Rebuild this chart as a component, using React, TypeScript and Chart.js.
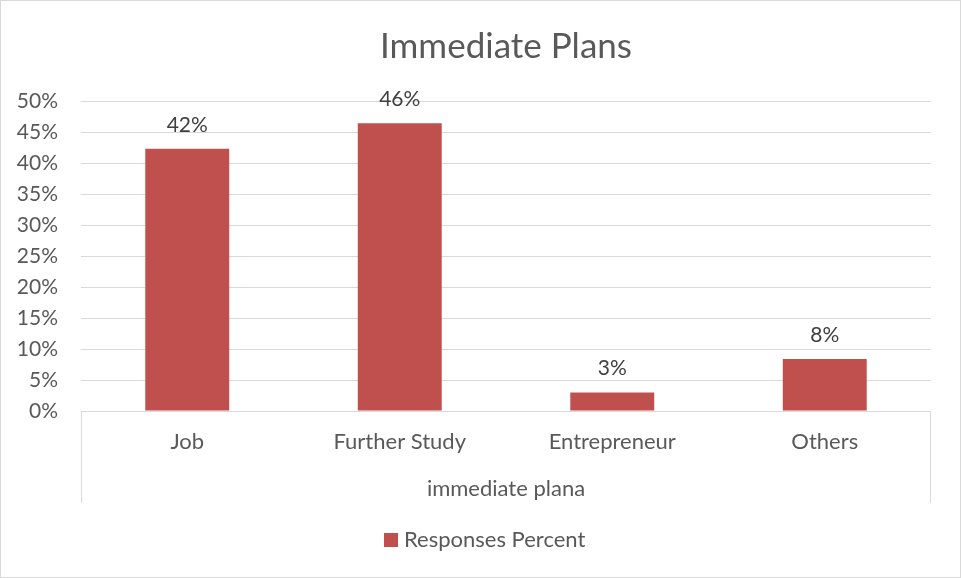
import React, { useEffect, useRef } from "react";
import { Chart, registerables } from "chart.js";

Chart.register(...registerables);

const categories = ["Job", "Further Study", "Entrepreneur", "Others"];
const responsesPercent = [42.3, 46.4, 3.0, 8.4];
const dataLabels = ["42%", "46%", "3%", "8%"];
const yTickValues = [0, 5, 10, 15, 20, 25, 30, 35, 40, 45, 50];
const chartTitle = "Immediate Plans";
const axisGroupLabel = "immediate plana";
const seriesName = "Responses Percent";

const FONT = "Lato, 'Open Sans', sans-serif";
const BAR_COLOR = "#C0504D";
const TEXT_COLOR = "#595959";
const LABEL_COLOR = "#404040";
const LINE_COLOR = "#D9D9D9";
const FS_TICK = 21;
const FS_TEXT = 22;

const decorPlugin = {
  id: "decor",
  afterDatasetsDraw(chart: any) {
    const ctx = chart.ctx as CanvasRenderingContext2D;
    const meta = chart.getDatasetMeta(0);
    ctx.save();
    ctx.font = `${FS_TICK}px ${FONT}`;
    ctx.fillStyle = LABEL_COLOR;
    ctx.textAlign = "center";
    ctx.textBaseline = "middle";
    meta.data.forEach((bar: any, i: number) => {
      ctx.fillText(dataLabels[i], bar.x, bar.y - 24);
    });
    ctx.restore();
  },
  afterDraw(chart: any) {
    const ctx = chart.ctx as CanvasRenderingContext2D;
    const area = chart.chartArea;
    const W = chart.width;
    const H = chart.height;
    ctx.save();
    ctx.strokeStyle = LINE_COLOR;
    ctx.lineWidth = 1;
    ctx.strokeRect(0.5, 0.5, W - 1, H - 1);
    ctx.beginPath();
    ctx.moveTo(Math.round(area.left) + 0.5, area.bottom);
    ctx.lineTo(Math.round(area.left) + 0.5, area.bottom + 92);
    ctx.moveTo(Math.round(area.right) - 0.5, area.bottom);
    ctx.lineTo(Math.round(area.right) - 0.5, area.bottom + 92);
    ctx.stroke();
    ctx.fillStyle = TEXT_COLOR;
    ctx.textAlign = "center";
    ctx.textBaseline = "middle";
    ctx.font = `35px ${FONT}`;
    ctx.fillText(chartTitle, (area.left + area.right) / 2, 47);
    ctx.font = `${FS_TEXT}px ${FONT}`;
    ctx.fillText(axisGroupLabel, (area.left + area.right) / 2, 489);
    ctx.textAlign = "left";
    const textW = ctx.measureText(seriesName).width;
    const total = 14 + 6 + textW;
    const startX = W / 2 + 4 - total / 2;
    ctx.fillStyle = BAR_COLOR;
    ctx.fillRect(Math.round(startX), 533, 14, 14);
    ctx.fillStyle = TEXT_COLOR;
    ctx.fillText(seriesName, Math.round(startX) + 20, 540);
    ctx.restore();
  },
};

export default function App() {
  const canvasRef = useRef<HTMLCanvasElement | null>(null);

  useEffect(() => {
    if (!canvasRef.current) return;
    const chart = new Chart(canvasRef.current, {
      type: "bar",
      data: {
        labels: categories,
        datasets: [
          {
            label: seriesName,
            data: responsesPercent,
            backgroundColor: BAR_COLOR,
            borderWidth: 0,
            barPercentage: 0.395,
            categoryPercentage: 1,
          },
        ],
      },
      options: {
        responsive: false,
        animation: false,
        devicePixelRatio: 1,
        layout: { padding: { top: 101, right: 30, left: 0, bottom: 0 } },
        plugins: {
          legend: { display: false },
          title: { display: false },
          tooltip: { enabled: false },
        },
        scales: {
          y: {
            min: 0,
            max: 50,
            afterBuildTicks: (scale: any) => {
              scale.ticks = yTickValues.map((v) => ({ value: v }));
            },
            ticks: {
              callback: (v: any) => `${v}%`,
              font: { family: FONT, size: FS_TICK },
              color: TEXT_COLOR,
              padding: 23,
            },
            grid: { color: LINE_COLOR, drawTicks: false, lineWidth: 1 },
            border: { display: false },
            afterFit: (scale: any) => {
              scale.width = 81;
            },
          },
          x: {
            ticks: {
              font: { family: FONT, size: FS_TEXT },
              color: TEXT_COLOR,
              padding: 18,
            },
            grid: { display: false, drawTicks: false },
            border: { display: false },
            afterFit: (scale: any) => {
              scale.height = 167;
            },
          },
        },
      },
      plugins: [decorPlugin],
    });
    return () => chart.destroy();
  }, []);

  return (
    <div style={{ position: "fixed", left: 0, top: 0, width: 961, height: 578, background: "#fff" }}>
      <canvas ref={canvasRef} width={961} height={578} style={{ display: "block" }} />
    </div>
  );
}
